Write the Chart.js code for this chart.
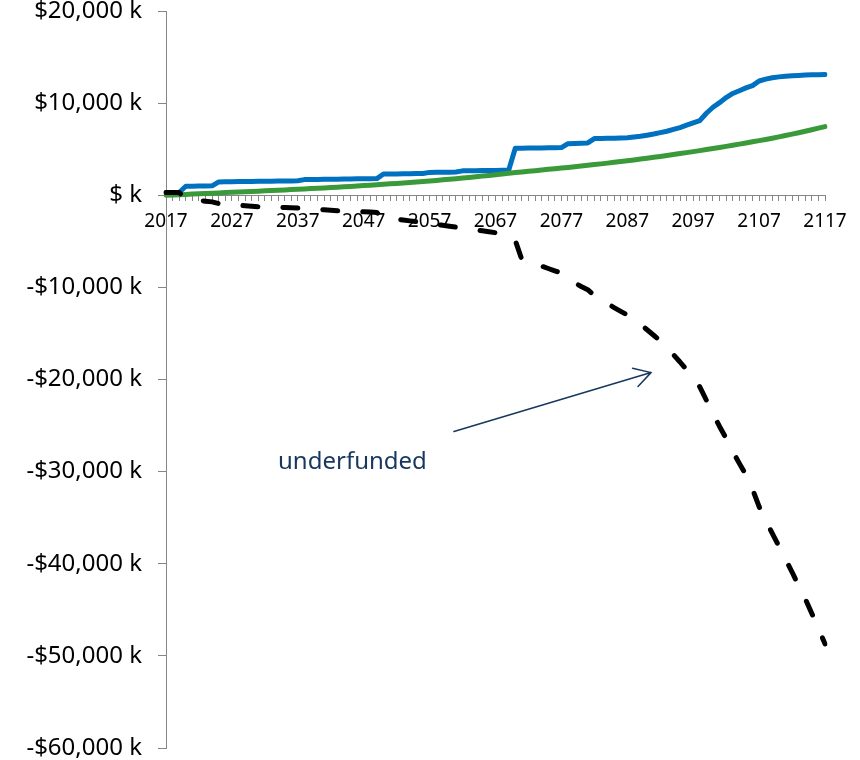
<!DOCTYPE html>
<html>
<head>
<meta charset="utf-8">
<script src="https://cdn.jsdelivr.net/npm/chart.js@4/dist/chart.umd.min.js"></script>
<style>
    html, body { margin: 0; padding: 0; background: #fff; overflow: hidden; }
    #chart { display: block; }
</style>
</head>
<body>
<canvas id="chart" width="860" height="760"></canvas>
<script>
const firstYear = 2017;
const lastYear = 2117;
const years = [];
for (let y = firstYear; y <= lastYear; y++) years.push(String(y));

const yTickValues = [20000, 10000, 0, -10000, -20000, -30000, -40000, -50000, -60000];
const yTickLabels = ['$20,000 k', '$10,000 k', '$ k', '-$10,000 k', '-$20,000 k', '-$30,000 k', '-$40,000 k', '-$50,000 k', '-$60,000 k'];

// blue line, $ thousands
const fundValues = [
    300, 300, 300,
    980, 990, 1000, 1010, 1020,
    1450, 1460, 1470, 1480, 1490, 1500, 1510, 1520, 1530, 1540, 1550, 1560, 1570,
    1700, 1710, 1720, 1730, 1740, 1750, 1760, 1770, 1780, 1790, 1800, 1810,
    2300, 2310, 2320, 2330, 2340, 2350, 2360,
    2480, 2490, 2500, 2510, 2520,
    2650, 2660, 2670, 2680, 2690, 2700, 2710, 2720,
    5100, 5110, 5120, 5130, 5140, 5150, 5160, 5170,
    5600, 5620, 5650, 5680,
    6150, 6160, 6180, 6200, 6220, 6250, 6320, 6400, 6520, 6650,
    6800, 6950, 7150, 7350, 7600, 7850, 8100, 8900, 9550, 10050,
    10600, 11050, 11350, 11650, 11900, 12400, 12600, 12750, 12850, 12920,
    12970, 13010, 13040, 13070, 13090, 13100
];

// green line
const targetValues = [
    0, 30, 62, 94, 126, 158, 190, 222, 255, 290,
    325, 355, 385, 415, 447, 480, 512, 545, 578, 612,
    648, 685, 722, 760, 798, 838, 878, 920, 962, 1005,
    1050, 1095, 1142, 1190, 1238, 1288, 1338, 1390, 1442, 1496,
    1550, 1610, 1672, 1736, 1802, 1870, 1938, 2008, 2078, 2150,
    2224, 2310, 2390, 2460, 2530, 2600, 2670, 2740, 2810, 2880,
    2950, 3020, 3096, 3172, 3248, 3326, 3406, 3488, 3572, 3658,
    3746, 3836, 3928, 4022, 4118, 4216, 4316, 4418, 4522, 4628,
    4736, 4846, 4958, 5072, 5188, 5306, 5426, 5548, 5672, 5798,
    5926, 6060, 6195, 6332, 6480, 6630, 6790, 6950, 7110, 7280,
    7450
];

// black dashed line
const shortfallValues = [
    300, 300, 300,
    -400, -480, -560, -640, -720,
    -900, -960, -1020, -1080, -1140, -1200, -1250, -1280, -1300, -1320, -1340, -1360, -1390,
    -1450, -1490, -1530, -1580, -1630, -1680, -1720, -1750, -1770, -1800, -1830, -1880,
    -2450, -2530, -2610, -2690, -2780, -2870, -2960,
    -3060, -3160, -3260, -3360, -3460,
    -3560, -3660, -3760, -3860, -3960, -4070, -4180, -4450,
    -4900, -7000, -7200, -7450, -7700, -7950, -8200, -8450,
    -9050, -9500, -9900, -10250,
    -10900, -11300, -11750, -12200, -12600, -13000, -13500, -14000, -14600, -15200,
    -15800, -16500, -17300, -18100, -18950, -19850, -20800, -22250, -23700, -25100,
    -26400, -27800, -29100, -30350, -31900, -33800, -35300, -36700, -38100, -39500,
    -40900, -42400, -43800, -45400, -47000, -48700
];

const axisColor = '#868686';
const noteColor = '#17375E';

// callout position in chart units (category index, $ k)
const note = {
    text: 'underfunded',
    textAt: [17.0, -29700],
    arrowFrom: [43.7, -25650],
    arrowTo: [73.6, -19250]
};

const calloutPlugin = {
    id: 'callout',
    afterDatasetsDraw(chart) {
        const { ctx, scales: { x, y } } = chart;
        const px = (p) => [x.getPixelForValue(p[0]), y.getPixelForValue(p[1])];
        const [x1, y1] = px(note.arrowFrom);
        const [x2, y2] = px(note.arrowTo);
        const angle = Math.atan2(y2 - y1, x2 - x1);
        const head = 19;

        ctx.save();
        ctx.strokeStyle = noteColor;
        ctx.lineWidth = 1.5;
        ctx.lineCap = 'round';
        ctx.beginPath();
        ctx.moveTo(x1, y1);
        ctx.lineTo(x2, y2);
        ctx.moveTo(x2 - head * Math.cos(angle - Math.PI / 6), y2 - head * Math.sin(angle - Math.PI / 6));
        ctx.lineTo(x2, y2);
        ctx.lineTo(x2 - head * Math.cos(angle + Math.PI / 6), y2 - head * Math.sin(angle + Math.PI / 6));
        ctx.stroke();

        const [tx, ty] = px(note.textAt);
        ctx.fillStyle = noteColor;
        ctx.font = '24px "Noto Sans"';
        ctx.textAlign = 'left';
        ctx.textBaseline = 'alphabetic';
        ctx.fillText(note.text, tx, ty);
        ctx.restore();
    }
};

new Chart(document.getElementById('chart'), {
    type: 'line',
    data: {
        labels: years,
        datasets: [
            {
                label: 'Shortfall',
                data: shortfallValues,
                borderColor: '#000000',
                borderWidth: 5,
                borderDash: [15, 25],
                borderCapStyle: 'round',
                borderJoinStyle: 'round',
                pointRadius: 0,
                tension: 0,
                fill: false
            },
            {
                label: 'Target',
                data: targetValues,
                borderColor: '#3A9A3A',
                borderWidth: 5,
                borderCapStyle: 'round',
                borderJoinStyle: 'round',
                pointRadius: 0,
                tension: 0,
                fill: false
            },
            {
                label: 'Fund',
                data: fundValues,
                borderColor: '#0070C0',
                borderWidth: 5,
                borderCapStyle: 'round',
                borderJoinStyle: 'round',
                pointRadius: 0,
                tension: 0,
                fill: false
            }
        ]
    },
    options: {
        responsive: false,
        animation: false,
        devicePixelRatio: 1,
        layout: { padding: { top: 11, right: 35, bottom: 12, left: 0 } },
        plugins: {
            legend: { display: false },
            tooltip: { enabled: false }
        },
        scales: {
            x: {
                type: 'category',
                position: { y: 0 },
                offset: false,
                grid: {
                    drawOnChartArea: false,
                    drawTicks: true,
                    tickLength: 5,
                    color: axisColor
                },
                border: { display: true, color: axisColor, width: 1 },
                ticks: {
                    autoSkip: false,
                    maxRotation: 0,
                    padding: 10,
                    color: '#000000',
                    font: { family: '"Noto Sans"', size: 19 },
                    callback: (value, index) => (index % 10 === 0 ? years[index] : '')
                }
            },
            y: {
                position: 'left',
                min: -60000,
                max: 20000,
                afterFit: (scale) => {
                    scale.width = 166;
                    scale.paddingTop = 0;
                    scale.paddingBottom = 0;
                },
                afterBuildTicks: (scale) => {
                    scale.ticks = yTickValues.map((v) => ({ value: v }));
                },
                grid: {
                    drawOnChartArea: false,
                    drawTicks: true,
                    tickLength: 8,
                    color: axisColor
                },
                border: { display: true, color: axisColor, width: 1 },
                ticks: {
                    padding: 16,
                    color: '#000000',
                    font: { family: '"Noto Sans"', size: 24 },
                    callback: (value) => yTickLabels[yTickValues.indexOf(value)]
                }
            }
        }
    },
    plugins: [calloutPlugin]
});
</script>
</body>
</html>
